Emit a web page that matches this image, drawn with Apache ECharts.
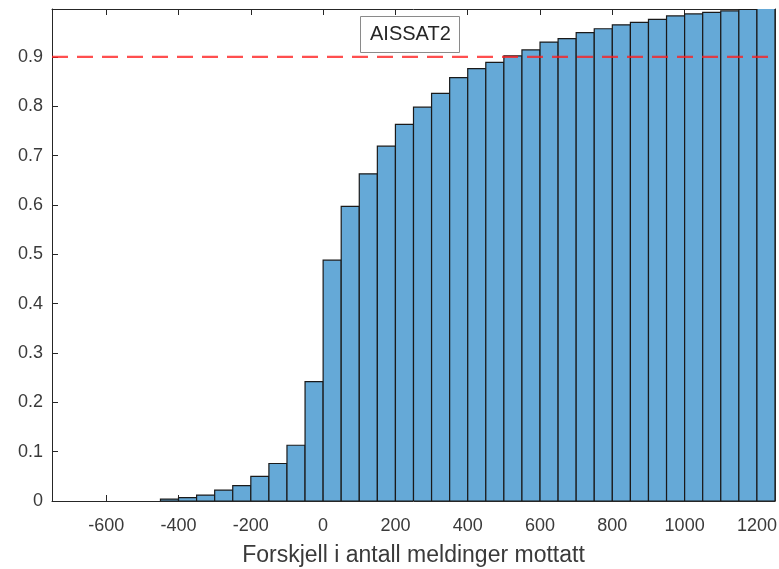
<!DOCTYPE html>
<html>
<head>
<meta charset="utf-8">
<script src="https://cdn.jsdelivr.net/npm/echarts@6/dist/echarts.min.js"></script>
<style>
html,body{margin:0;padding:0;background:#fff;}
#chart{width:779px;height:569px;}
</style>
</head>
<body>
<div id="chart"></div>
<script>
// Bin left edges (width 50) and cumulative probability values
const binWidth = 50;
const binStarts = [-450,-400,-350,-300,-250,-200,-150,-100,-50,0,50,100,150,200,250,300,350,400,450,500,550,600,650,700,750,800,850,900,950,1000,1050,1100,1150,1200];
const cumValues = [0.004,0.007,0.012,0.022,0.031,0.050,0.076,0.113,0.242,0.488,0.597,0.663,0.719,0.763,0.798,0.826,0.858,0.876,0.889,0.902,0.914,0.930,0.937,0.949,0.957,0.965,0.970,0.976,0.983,0.987,0.990,0.993,0.996,1.0];
const xTicks = [-600,-400,-200,0,200,400,600,800,1000,1200];
const yTicks = [0,0.1,0.2,0.3,0.4,0.5,0.6,0.7,0.8,0.9];
const xRange = [-750, 1250];
const yRange = [0, 0.997];
const threshold = 0.9;
const legendLabel = 'AISSAT2';
const xLabel = 'Forskjell i antall meldinger mottatt';

const FONT = "'Liberation Sans', Arial, Helvetica, sans-serif";
const AX = '#262626';
const TXT = '#3a3a3a';

const data = binStarts.map((s, i) => [s, s + binWidth, cumValues[i]]);

const chart = echarts.init(document.getElementById('chart'), null, {renderer: 'canvas'});
const axisCommon = {
  axisLine: {show: true, onZero: false, lineStyle: {color: AX, width: 1}},
  splitLine: {show: false}
};
chart.setOption({
  animation: false,
  backgroundColor: '#fff',
  title: {
    text: legendLabel,
    left: 360, top: 16,
    padding: [8, 9, 9, 10],
    borderColor: '#8a8a8a', borderWidth: 1,
    backgroundColor: '#fff',
    textStyle: {fontFamily: FONT, fontSize: 20, fontWeight: 'normal', color: '#262626'}
  },
  grid: {left: 52, right: 4, top: 9, bottom: 68, containLabel: false, outerBoundsMode: 'none'},
  xAxis: [{
    type: 'value', min: xRange[0], max: xRange[1], position: 'bottom',
    ...axisCommon,
    axisTick: {show: true, inside: true, length: 6, lineStyle: {color: AX}, customValues: xTicks},
    axisLabel: {show: true, customValues: xTicks, margin: 16, color: TXT, fontFamily: FONT, fontSize: 18,
      formatter: v => String(v)},
    name: xLabel, nameLocation: 'middle', nameGap: 43,
    nameTextStyle: {fontFamily: FONT, fontSize: 23, color: TXT}
  }, {
    type: 'value', min: xRange[0], max: xRange[1], position: 'top',
    ...axisCommon,
    axisTick: {show: true, inside: true, length: 6, lineStyle: {color: AX}, customValues: xTicks},
    axisLabel: {show: false}
  }],
  yAxis: [{
    type: 'value', min: yRange[0], max: yRange[1], position: 'left',
    ...axisCommon,
    axisTick: {show: true, inside: true, length: 6, lineStyle: {color: AX}, customValues: yTicks},
    axisLabel: {show: true, customValues: yTicks, margin: 9, color: TXT, fontFamily: FONT, fontSize: 18,
      formatter: v => (Math.round(v * 10) / 10).toString()}
  }, {
    type: 'value', min: yRange[0], max: yRange[1], position: 'right',
    ...axisCommon,
    axisTick: {show: true, inside: true, length: 6, lineStyle: {color: AX}, customValues: yTicks},
    axisLabel: {show: false}
  }],
  series: [{
    type: 'custom',
    xAxisIndex: 0, yAxisIndex: 0,
    clip: true,
    data: data,
    renderItem: function (params, api) {
      const p0 = api.coord([api.value(0), api.value(2)]);
      const p1 = api.coord([api.value(1), 0]);
      return {
        type: 'rect',
        shape: {x: p0[0], y: p0[1], width: p1[0] - p0[0], height: p1[1] - p0[1]},
        style: {fill: '#65A9D7', stroke: '#1a1a1a', lineWidth: 1.2}
      };
    },
    z: 2
  }, {
    type: 'line',
    xAxisIndex: 0, yAxisIndex: 0,
    data: [[xRange[0], threshold], [xRange[1], threshold]],
    symbol: 'none',
    lineStyle: {color: 'rgba(255,30,30,0.78)', width: 2.2, type: [16, 9]},
    z: 5
  }]
});
</script>
</body>
</html>
